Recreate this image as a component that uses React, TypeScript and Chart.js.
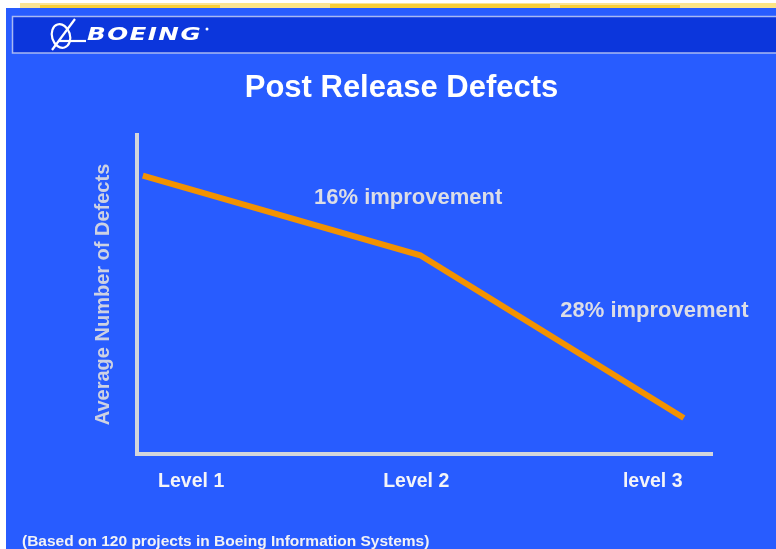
import React, { useEffect, useRef } from "react";
import { Chart, registerables } from "chart.js";

Chart.register(...registerables);

// ---- data ----
const levels = ["Level 1", "Level 2", "level 3"];
const levelTickPositions = [9.5, 48.6, 89.7];
const levelPointPositions = [1.1, 49.3, 95.1];
const avgDefects = [87.3, 62.3, 11.3];
const annotationTexts = ["16% improvement", "28% improvement"];
const annotationX = [47.2, 90.0];
const annotationY = [80.3, 44.7];
const chartTitle = "Post Release Defects";
const yAxisTitle = "Average Number of Defects";
const footnote = "(Based on 120 projects in Boeing Information Systems)";
const brandName = "BOEING";

const FONT = '"Liberation Sans", Arial, Helvetica, sans-serif';

const backgroundPlugin = {
  id: "slideBackground",
  beforeDraw(chart: any) {
    const ctx = chart.ctx as CanvasRenderingContext2D;
    const W = chart.width;
    const H = chart.height;
    ctx.save();
    ctx.fillStyle = "#ffffff";
    ctx.fillRect(0, 0, W, H);
    // yellow brush stroke at the very top
    ctx.fillStyle = "rgba(247, 205, 60, 0.55)";
    ctx.fillRect(20, 3, W - 20, 5);
    ctx.fillStyle = "rgba(247, 200, 30, 0.8)";
    ctx.fillRect(40, 5, 180, 3);
    ctx.fillRect(330, 4, 220, 4);
    ctx.fillRect(560, 5, 120, 3);
    ctx.fillStyle = "rgba(255, 230, 120, 0.6)";
    ctx.fillRect(240, 3, 80, 4);
    ctx.fillRect(690, 3, 86, 4);
    // blue slide
    ctx.fillStyle = "#285cff";
    ctx.fillRect(6, 8, W - 6, H - 8);
    // header band
    ctx.fillStyle = "#0c36dc";
    ctx.fillRect(12, 16, W - 12, 37);
    ctx.strokeStyle = "#a9b9f2";
    ctx.lineWidth = 1.5;
    ctx.strokeRect(12.5, 16.5, W + 10, 36.5);
    // logo symbol
    ctx.strokeStyle = "#ffffff";
    ctx.lineWidth = 2.2;
    ctx.beginPath();
    ctx.ellipse(61, 36, 9, 12, -0.3, 0, Math.PI * 2);
    ctx.stroke();
    ctx.beginPath();
    ctx.moveTo(52, 50);
    ctx.lineTo(75, 19);
    ctx.stroke();
    ctx.beginPath();
    ctx.moveTo(58, 41);
    ctx.lineTo(86, 41);
    ctx.stroke();
    // brand lettering
    ctx.fillStyle = "#ffffff";
    ctx.font = 'italic bold 17px "DejaVu Sans", sans-serif';
    (ctx as any).letterSpacing = "1px";
    ctx.textBaseline = "alphabetic";
    ctx.textAlign = "left";
    const tw = ctx.measureText(brandName).width;
    ctx.save();
    ctx.translate(87, 39.5);
    ctx.scale(115 / tw, 1);
    ctx.fillText(brandName, 0, 0);
    ctx.restore();
    (ctx as any).letterSpacing = "0px";
    ctx.beginPath();
    ctx.arc(207, 29, 1.5, 0, Math.PI * 2);
    ctx.fill();
    ctx.restore();
  },
  afterDraw(chart: any) {
    const ctx = chart.ctx as CanvasRenderingContext2D;
    const xs = chart.scales.x;
    const ys = chart.scales.y;
    ctx.save();
    ctx.fillStyle = "#dcdde6";
    ctx.font = `bold 22px ${FONT}`;
    ctx.textAlign = "center";
    ctx.textBaseline = "middle";
    annotationTexts.forEach((t, i) => {
      ctx.fillText(t, xs.getPixelForValue(annotationX[i]), ys.getPixelForValue(annotationY[i]));
    });
    ctx.fillStyle = "#f2f2f6";
    ctx.font = `bold 15.5px ${FONT}`;
    ctx.textAlign = "left";
    ctx.textBaseline = "alphabetic";
    ctx.fillText(footnote, 22, 546);
    ctx.restore();
  },
};

export default function App() {
  const ref = useRef<HTMLCanvasElement | null>(null);
  useEffect(() => {
    if (!ref.current) return;
    Chart.defaults.font.family = FONT;
    const chart = new Chart(ref.current, {
      type: "line",
      data: {
        datasets: [
          {
            data: levelPointPositions.map((x, i) => ({ x, y: avgDefects[i] })),
            borderColor: "#f39200",
            borderWidth: 6,
            pointRadius: 0,
            tension: 0,
            fill: false,
          },
        ],
      },
      options: {
        responsive: false,
        animation: false,
        events: [],
        layout: { padding: { left: 91, right: 64, top: 69.4, bottom: 39.6 } },
        plugins: {
          legend: { display: false },
          tooltip: { enabled: false },
          title: {
            display: true,
            text: chartTitle,
            color: "#ffffff",
            font: { size: 31, weight: "bold", family: FONT },
            padding: { top: 0, bottom: 28.4 },
          },
        },
        scales: {
          x: {
            type: "linear",
            min: 0,
            max: 100,
            grid: { display: false, drawTicks: false },
            border: { display: true, color: "#d3d5db", width: 4 },
            afterBuildTicks: (scale: any) => {
              scale.ticks = levelTickPositions.map((v) => ({ value: v }));
            },
            ticks: {
              color: "#f4f4f8",
              font: { size: 19.5, weight: "bold", family: FONT },
              padding: 16,
              maxRotation: 0,
              autoSkip: false,
              callback: (_v: any, i: number) => levels[i],
            },
          },
          y: {
            type: "linear",
            min: 0,
            max: 100,
            grid: { display: false, drawTicks: false },
            border: { display: true, color: "#d3d5db", width: 4 },
            ticks: { display: false },
            title: {
              display: true,
              text: yAxisTitle,
              color: "#cdd1e2",
              font: { size: 20, weight: "bold", family: FONT },
              padding: { top: 0, bottom: 21.5 },
            },
          },
        },
      },
      plugins: [backgroundPlugin],
    } as any);
    return () => chart.destroy();
  }, []);
  return (
    <div style={{ position: "absolute", left: 0, top: 0, width: 776, height: 549 }}>
      <canvas ref={ref} width={776} height={549} style={{ display: "block" }} />
    </div>
  );
}
